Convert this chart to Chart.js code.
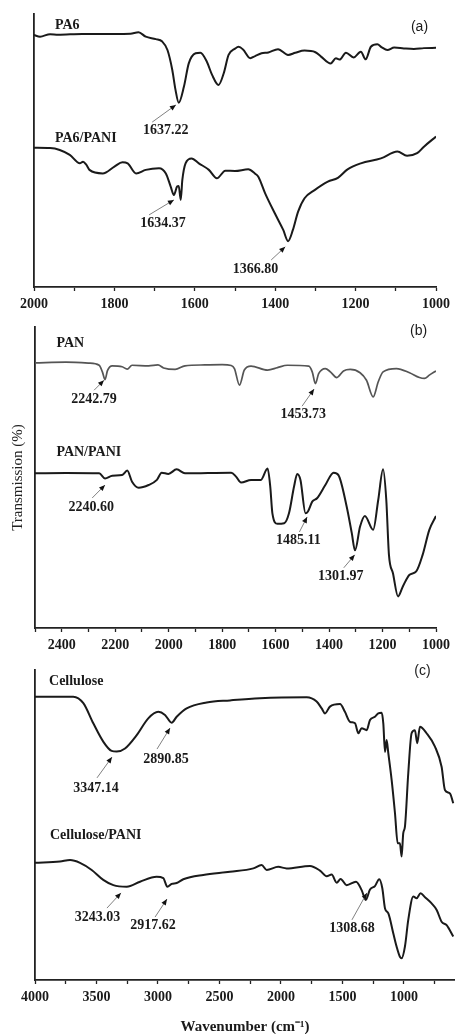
<!DOCTYPE html>
<html><head><meta charset="utf-8">
<script src="https://cdn.jsdelivr.net/npm/chart.js@4.4.1/dist/chart.umd.min.js"></script>
<style>
html,body{margin:0;padding:0;background:#fff;overflow:hidden;width:455px;height:1034px;position:relative;}
canvas{position:absolute;left:0;}
</style></head><body>
<canvas id="ca" width="455" height="315" style="top:0px"></canvas>
<canvas id="cb" width="455" height="341" style="top:315px"></canvas>
<canvas id="cc" width="455" height="380" style="top:656px"></canvas>
<script>
// ---------- Panel (a): PA6, PA6/PANI ----------
const pa6Wn = [2000,1985,1960,1940,1880,1800,1760,1740,1722,1697,1681,1668,1656,1648,1640,1627,1615,1598,1586,1570,1557,1541,1528,1516,1500,1491,1480,1462,1450,1434,1417,1393,1368,1350,1327,1300,1286,1262,1249,1240,1224,1205,1187,1175,1162,1146,1135,1121,1104,1080,1055,1030,1000];
const pa6T  = [92.3,91.7,92.6,92.4,92.7,92.7,92.8,93.3,91.7,90.8,89.9,86.8,79.5,72.2,67.5,73.4,81.9,85.6,85.8,82.5,77.7,74.0,78.3,85.0,87.3,88.0,87.0,83.8,84.6,85.6,85.9,87.1,85.0,85.8,86.6,86.0,84.4,81.9,83.8,83.3,85.8,84.1,86.2,83.4,88.0,88.9,87.8,86.8,87.7,87.4,87.2,87.5,87.6];
const pa6PaniWn = [2000,1960,1936,1911,1886,1878,1870,1862,1829,1800,1780,1767,1746,1722,1689,1672,1660,1652,1644,1640,1635,1631,1623,1608,1590,1565,1545,1524,1500,1467,1450,1442,1425,1401,1380,1368,1356,1343,1327,1302,1269,1244,1220,1187,1137,1096,1072,1047,1030,1000];
const pa6PaniT  = [51.0,50.9,50.2,48.4,45.3,45.9,44.8,42.9,41.6,44.1,45.7,45.3,41.6,42.9,43.5,41.6,36.8,33.7,36.8,37.0,31.9,39.2,45.3,47.1,45.3,42.9,39.8,42.6,42.5,43.1,41.5,40.4,34.3,27.0,20.9,16.8,20.9,27.6,32.5,35.5,38.6,40.0,43.1,45.3,47.1,49.6,48.1,49.0,51.4,55.1];
const ticksA  = [2000,1900,1800,1700,1600,1500,1400,1300,1200,1100,1000];
const labelsA = [2000,1800,1600,1400,1200,1000];

// ---------- Panel (b): PAN, PAN/PANI ----------
const panWn = [2500,2384,2300,2260,2248,2238,2229,2211,2174,2155,2137,2075,2040,2019,1976,1939,1865,1800,1766,1754,1735,1717,1692,1630,1593,1556,1476,1463,1451,1439,1414,1395,1371,1346,1321,1284,1260,1235,1216,1198,1148,1099,1062,1043,1025,1000];
const panT  = [88.1,88.3,88.0,87.3,85.1,82.5,85.5,87.1,86.8,86.0,87.3,87.1,87.4,86.4,85.9,87.1,87.4,87.5,87.2,86.2,80.7,85.7,87.0,85.7,86.5,87.3,87.0,85.1,81.2,84.5,86.2,85.1,83.2,85.4,85.9,84.8,82.3,76.8,81.8,85.1,86.2,84.8,83.2,82.9,84.0,85.4];
const panPaniWn = [2500,2384,2260,2238,2211,2174,2155,2137,2112,2075,2044,2026,2001,1970,1939,1766,1748,1729,1692,1655,1630,1620,1612,1593,1568,1550,1531,1519,1507,1488,1479,1463,1445,1414,1383,1365,1334,1315,1303,1284,1266,1235,1216,1198,1186,1176,1161,1142,1124,1099,1074,1050,1025,1000];
const panPaniT  = [51.4,51.5,51.4,49.7,50.6,50.8,52.3,48.6,46.6,47.5,49.2,51.6,51.2,52.7,51.4,51.6,50.3,48.3,49.2,49.2,53.0,47.0,38.1,34.6,34.8,38.1,47.0,51.2,49.2,38.1,38.7,42.0,43.1,47.5,51.6,50.8,40.3,31.5,25.8,33.7,37.2,32.6,42.6,52.7,42.6,24.3,18.2,10.5,13.8,17.7,18.8,24.3,32.6,37.2];
const ticksB  = [2500,2400,2300,2200,2100,2000,1900,1800,1700,1600,1500,1400,1300,1200,1100,1000];
const labelsB = [2400,2200,2000,1800,1600,1400,1200,1000];

// ---------- Panel (c): Cellulose, Cellulose/PANI ----------
const celWn = [4000,3689,3607,3526,3445,3377,3336,3268,3173,3079,2998,2943,2889,2848,2767,2604,2415,2171,1791,1710,1669,1642,1602,1520,1480,1439,1398,1371,1344,1303,1276,1236,1209,1181,1168,1154,1141,1127,1100,1073,1051,1033,1019,1006,992,965,938,911,892,870,816,748,694,667,626,599];
const celT  = [91.4,91.4,89.3,82.8,76.9,73.9,73.7,74.7,79.0,84.4,86.5,85.5,83.0,84.9,87.6,89.5,90.2,90.9,91.2,89.8,87.6,86.0,88.2,89.0,86.5,83.3,82.8,79.6,81.2,80.6,83.9,84.9,86.0,86.2,82.8,73.6,77.4,73.1,64.5,53.8,44.1,44.1,39.8,47.3,49.5,66.7,79.6,80.6,76.4,81.7,79.6,75.3,68.8,61.3,60.2,57.0];
const celPaniWn = [4000,3797,3715,3634,3539,3445,3363,3254,3146,3011,2957,2924,2889,2848,2794,2632,2415,2225,2157,2116,2022,1954,1764,1683,1628,1588,1547,1515,1466,1390,1344,1311,1276,1236,1201,1176,1154,1127,1087,1060,1033,1019,992,965,924,897,865,829,775,734,694,653,599];
const celPaniT  = [37.8,38.2,38.7,37.8,35.5,32.3,30.6,30.1,31.7,33.3,32.9,30.1,31.0,31.3,32.5,33.9,34.9,36.0,37.1,35.5,36.5,36.0,36.8,35.3,33.5,34.0,31.4,32.6,30.6,31.7,29.0,25.8,29.2,30.3,32.5,29.6,23.1,21.5,15.1,10.8,7.5,7.0,10.8,19.4,26.9,26.4,28.0,26.7,24.7,22.6,18.8,17.7,14.0];
const ticksC  = [4000,3750,3500,3250,3000,2750,2500,2250,2000,1750,1500,1250,1000,750];
const labelsC = [4000,3500,3000,2500,2000,1500,1000];

// ---------- Peak annotations (data coordinates) ----------
const notesA = [
  {text:'1637.22', at:[1672,57.5], tail:[1706,60.4], tip:[1647,66.7]},
  {text:'1634.37', at:[1679,23.4], tail:[1714,26.4], tip:[1652,31.9]},
  {text:'1366.80', at:[1449,6.6],  tail:[1410,9.9],  tip:[1375,14.7]}
];
const notesB = [
  {text:'2242.79', at:[2279,76.0], tail:[2279,79.0], tip:[2242,82.3]},
  {text:'1453.73', at:[1497,71.0], tail:[1501,73.7], tip:[1456,79.4]},
  {text:'2240.60', at:[2290,40.2], tail:[2286,43.2], tip:[2238,47.5]},
  {text:'1485.11', at:[1515,29.0], tail:[1511,31.9], tip:[1482,36.9]},
  {text:'1301.97', at:[1356,17.0], tail:[1345,20.0], tip:[1304,24.3]}
];
const notesC = [
  {text:'3347.14', at:[3504,61.8], tail:[3496,65.2], tip:[3374,71.9]},
  {text:'2890.85', at:[2935,71.2], tail:[3008,74.5], tip:[2902,81.3]},
  {text:'3243.03', at:[3492,20.1], tail:[3415,23.2], tip:[3301,28.1]},
  {text:'2917.62', at:[3041,17.7], tail:[3024,20.3], tip:[2927,26.1]},
  {text:'1308.68', at:[1423,16.5], tail:[1423,19.4], tip:[1301,28.1]}
];
const tagsA = [
  {text:'PA6', at:[1948,96.0]}, {text:'PA6/PANI', at:[1948,54.6]}, {text:'(a)', at:[1041,95.2], panel:true}
];
const tagsB = [
  {text:'PAN', at:[2420,94.6]}, {text:'PAN/PANI', at:[2420,58.5]}, {text:'(b)', at:[1065,98.6], panel:true}
];
const tagsC = [
  {text:'Cellulose', at:[3886,96.2]}, {text:'Cellulose/PANI', at:[3878,46.5]}, {text:'(c)', at:[850,99.7], panel:true}
];

const SERIF = "'Liberation Serif', 'Times New Roman', serif";
const SANS = "'Liberation Sans', Arial, sans-serif";

function pts(wn, t) { return wn.map((w, i) => ({x: w, y: t[i]})); }

const notesPlugin = {
  id: 'notes',
  afterDatasetsDraw(chart, args, o) {
    const ctx = chart.ctx, xs = chart.scales.x, ys = chart.scales.y;
    const X = v => xs.getPixelForValue(v), Y = v => ys.getPixelForValue(v);
    ctx.save();
    (o.arrows || []).forEach(n => {
      const x1 = X(n.tail[0]), y1 = Y(n.tail[1]), x2 = X(n.tip[0]), y2 = Y(n.tip[1]);
      ctx.strokeStyle = '#808080'; ctx.lineWidth = 1;
      ctx.beginPath(); ctx.moveTo(x1, y1); ctx.lineTo(x2, y2); ctx.stroke();
      const a = Math.atan2(y2 - y1, x2 - x1), L = 6, W = 2.6;
      ctx.fillStyle = '#111';
      ctx.beginPath();
      ctx.moveTo(x2, y2);
      ctx.lineTo(x2 - L * Math.cos(a) + W * Math.sin(a), y2 - L * Math.sin(a) - W * Math.cos(a));
      ctx.lineTo(x2 - L * Math.cos(a) - W * Math.sin(a), y2 - L * Math.sin(a) + W * Math.cos(a));
      ctx.closePath(); ctx.fill();
      ctx.font = 'bold 14px ' + SERIF;
      ctx.textAlign = 'center'; ctx.textBaseline = 'middle';
      ctx.fillStyle = '#1a1a1a';
      ctx.fillText(n.text, X(n.at[0]), Y(n.at[1]));
    });
    (o.tags || []).forEach(t => {
      ctx.textBaseline = 'middle';
      ctx.fillStyle = '#1a1a1a';
      if (t.panel) { ctx.font = '14px ' + SANS; ctx.textAlign = 'center'; }
      else { ctx.font = 'bold 14px ' + SERIF; ctx.textAlign = 'left'; }
      ctx.fillText(t.text, X(t.at[0]), Y(t.at[1]));
    });
    ctx.restore();
  }
};

function makePanel(id, cfg) {
  return new Chart(document.getElementById(id), {
    type: 'line',
    data: {
      datasets: cfg.series.map(s => ({
        data: pts(s.wn, s.t), borderColor: s.color, borderWidth: s.width,
        pointRadius: 0, fill: false, cubicInterpolationMode: 'monotone'
      }))
    },
    options: {
      responsive: false, animation: false, devicePixelRatio: 1,
      layout: {padding: {top: cfg.padTop, right: cfg.padRight, bottom: 0, left: 0}},
      plugins: {legend: {display: false}, tooltip: {enabled: false},
        notes: {arrows: cfg.notes, tags: cfg.tags}},
      scales: {
        x: {
          type: 'linear', min: cfg.xmin, max: cfg.xmax, reverse: true,
          afterBuildTicks: s => { s.ticks = cfg.ticks.map(v => ({value: v})); },
          afterFit: s => { s.height = cfg.xAxisH; },
          ticks: {autoSkip: false, maxRotation: 0, minRotation: 0, padding: 5, color: '#1a1a1a',
            font: {family: SERIF, size: 14, weight: 'bold'},
            callback: v => cfg.labels.includes(v) ? String(v) : ''},
          grid: {display: true, drawOnChartArea: false, drawTicks: true, tickLength: 4, tickColor: '#222', tickWidth: 1.3},
          border: {display: true, color: '#222', width: 1.8},
          title: cfg.xTitle ? {display: true, text: cfg.xTitle, color: '#1a1a1a',
            font: {family: SERIF, size: 15, weight: 'bold'}, padding: {top: 0, bottom: 0}} : {display: false}
        },
        y: {
          min: 0, max: 100,
          ticks: {display: false}, grid: {display: false},
          border: {display: true, color: '#222', width: 1.8},
          afterFit: s => { s.width = cfg.plotLeft; },
          title: cfg.yTitle ? {display: true, text: cfg.yTitle, color: '#222',
            font: {family: SERIF, size: 15}, padding: {top: 9, bottom: 0}} : {display: false}
        }
      }
    },
    plugins: [notesPlugin]
  });
}

makePanel('ca', {
  series: [
    {wn: pa6Wn, t: pa6T, color: '#1a1a1a', width: 2},
    {wn: pa6PaniWn, t: pa6PaniT, color: '#1a1a1a', width: 2}
  ],
  xmin: 1000, xmax: 2000, ticks: ticksA, labels: labelsA,
  padTop: 14, padRight: 16, plotLeft: 34, xAxisH: 28,
  notes: notesA, tags: tagsA
});
makePanel('cb', {
  series: [
    {wn: panWn, t: panT, color: '#555', width: 1.7},
    {wn: panPaniWn, t: panPaniT, color: '#1a1a1a', width: 2}
  ],
  xmin: 1000, xmax: 2500, ticks: ticksB, labels: labelsB,
  padTop: 12, padRight: 15, plotLeft: 35, xAxisH: 28,
  yTitle: 'Transmission (%)',
  notes: notesB, tags: tagsB
});
makePanel('cc', {
  series: [
    {wn: celWn, t: celT, color: '#1a1a1a', width: 2},
    {wn: celPaniWn, t: celPaniT, color: '#1a1a1a', width: 2}
  ],
  xmin: 585, xmax: 4000, ticks: ticksC, labels: labelsC,
  padTop: 14, padRight: 0, plotLeft: 35, xAxisH: 56,
  xTitle: 'Wavenumber (cm\u207B\u00B9)',
  notes: notesC, tags: tagsC
});
</script>
</body></html>
